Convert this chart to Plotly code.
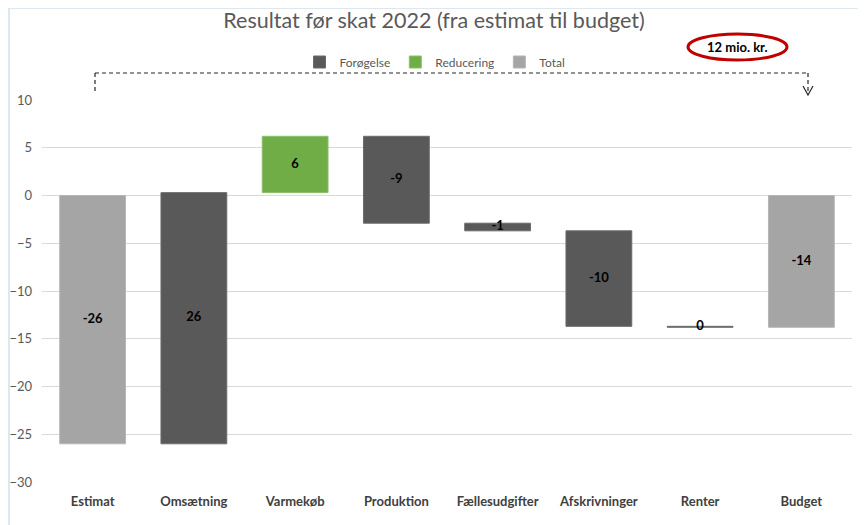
import plotly.graph_objects as go

categories = ["Estimat", "Omsætning", "Varmekøb", "Produktion", "Fællesudgifter",
              "Afskrivninger", "Renter", "Budget"]
values = [-26.0, 26.3, 5.9, -9.1, -0.8, -10.0, -0.1, -13.8]
kinds = ["Total", "Forøgelse", "Reducering", "Forøgelse", "Forøgelse",
         "Forøgelse", "Forøgelse", "Total"]
labels = ["-26", "26", "6", "-9", "-1", "-10", "0", "-14"]
y_ticks = [-30, -25, -20, -15, -10, -5, 0, 5, 10]

colors = {"Forøgelse": "#595959", "Reducering": "#70AD47", "Total": "#A5A5A5"}
edges = {"Forøgelse": "#6b6b6b", "Reducering": "#8cc06a", "Total": "#b5b5b5"}

# waterfall bases: totals start at 0, steps start at running sum
bases, running = [], 0.0
for v, k in zip(values, kinds):
    if k == "Total":
        bases.append(0.0)
        running = v
    else:
        bases.append(running)
        running += v

fig = go.Figure()
for k in ["Forøgelse", "Reducering", "Total"]:
    idx = [i for i, kk in enumerate(kinds) if kk == k]
    fig.add_trace(go.Bar(
        x=[categories[i] for i in idx], y=[values[i] for i in idx],
        base=[bases[i] for i in idx], name=k, width=0.65,
        marker=dict(color=colors[k], line=dict(color=edges[k], width=1)),
        hoverinfo="skip",
    ))

fig.add_trace(go.Scatter(
    x=categories, y=[b + v / 2 for b, v in zip(bases, values)],
    mode="text", text=labels, showlegend=False, hoverinfo="skip",
    textfont=dict(family="Lato, sans-serif", size=13, color="black", weight="bold"),
))

# page body has an 8px margin, so the figure is drawn 8px smaller and shifted
OFF = 8


# window pixel -> paper helpers (plot area 42..852 x, 100..482 y in window)
def px(x):
    return (x - 42) / 810


def py(y):
    return (482 - y) / 382


dash = "4px,3px"
shapes = [
    # slide-like white card over tinted background
    dict(type="rect", xref="paper", yref="paper", layer="below",
         x0=px(10), x1=px(870), y0=py(530), y1=py(9),
         fillcolor="white", line=dict(width=0)),
    # bracket from estimat to budget
    dict(type="line", xref="paper", yref="paper", x0=px(95), x1=px(808),
         y0=py(73), y1=py(73), line=dict(color="#262626", width=1.2, dash=dash)),
    dict(type="line", xref="paper", yref="paper", x0=px(95), x1=px(95),
         y0=py(73), y1=py(92), line=dict(color="#262626", width=1.2, dash=dash)),
    dict(type="line", xref="paper", yref="paper", x0=px(808), x1=px(808),
         y0=py(73), y1=py(94), line=dict(color="#262626", width=1.2, dash=dash)),
    dict(type="path", xref="paper", yref="paper",
         path=f"M {px(803)},{py(86)} L {px(808)},{py(95)} L {px(813)},{py(86)}",
         line=dict(color="#262626", width=1.2)),
    # red ellipse
    dict(type="circle", xref="paper", yref="paper", x0=px(688), x1=px(787),
         y0=py(60), y1=py(34), line=dict(color="#C00000", width=3)),
]

fig.update_layout(
    width=866 - OFF, height=525 - OFF,
    paper_bgcolor="#dde7ef", plot_bgcolor="white",
    margin=dict(l=42 - OFF, r=14, t=100 - OFF, b=43),
    barmode="overlay", bargap=0.35,
    font=dict(family="Lato, sans-serif", color="#595959"),
    title=dict(text="Resultat før skat 2022 (fra estimat til budget)",
               x=(434 - OFF) / (866 - OFF), xanchor="center",
               y=1 - (20 - OFF) / (525 - OFF), yanchor="middle",
               font=dict(size=21.5, color="#595959")),
    legend=dict(orientation="h", x=px(435), xanchor="center", y=py(62), yanchor="middle",
                font=dict(size=12, color="#595959"), bgcolor="rgba(0,0,0,0)",
                traceorder="normal"),
    shapes=shapes,
    annotations=[dict(text="<b>12 mio. kr.</b>", xref="paper", yref="paper",
                      x=px(737), y=py(47), xanchor="center", yanchor="middle",
                      showarrow=False, font=dict(size=13, color="black"))],
    xaxis=dict(categoryorder="array", categoryarray=categories, showgrid=False,
               showline=False, ticks="", ticklabelstandoff=10, automargin=False,
               tickfont=dict(size=13, color="#404040", weight="bold")),
    yaxis=dict(range=[-30, 10], tickvals=y_ticks, showgrid=True, gridcolor="#d9d9d9",
               zeroline=False, ticks="", ticklabelstandoff=9, automargin=False,
               tickfont=dict(size=13, color="#595959")),
)

fig.write_html("out.html")
